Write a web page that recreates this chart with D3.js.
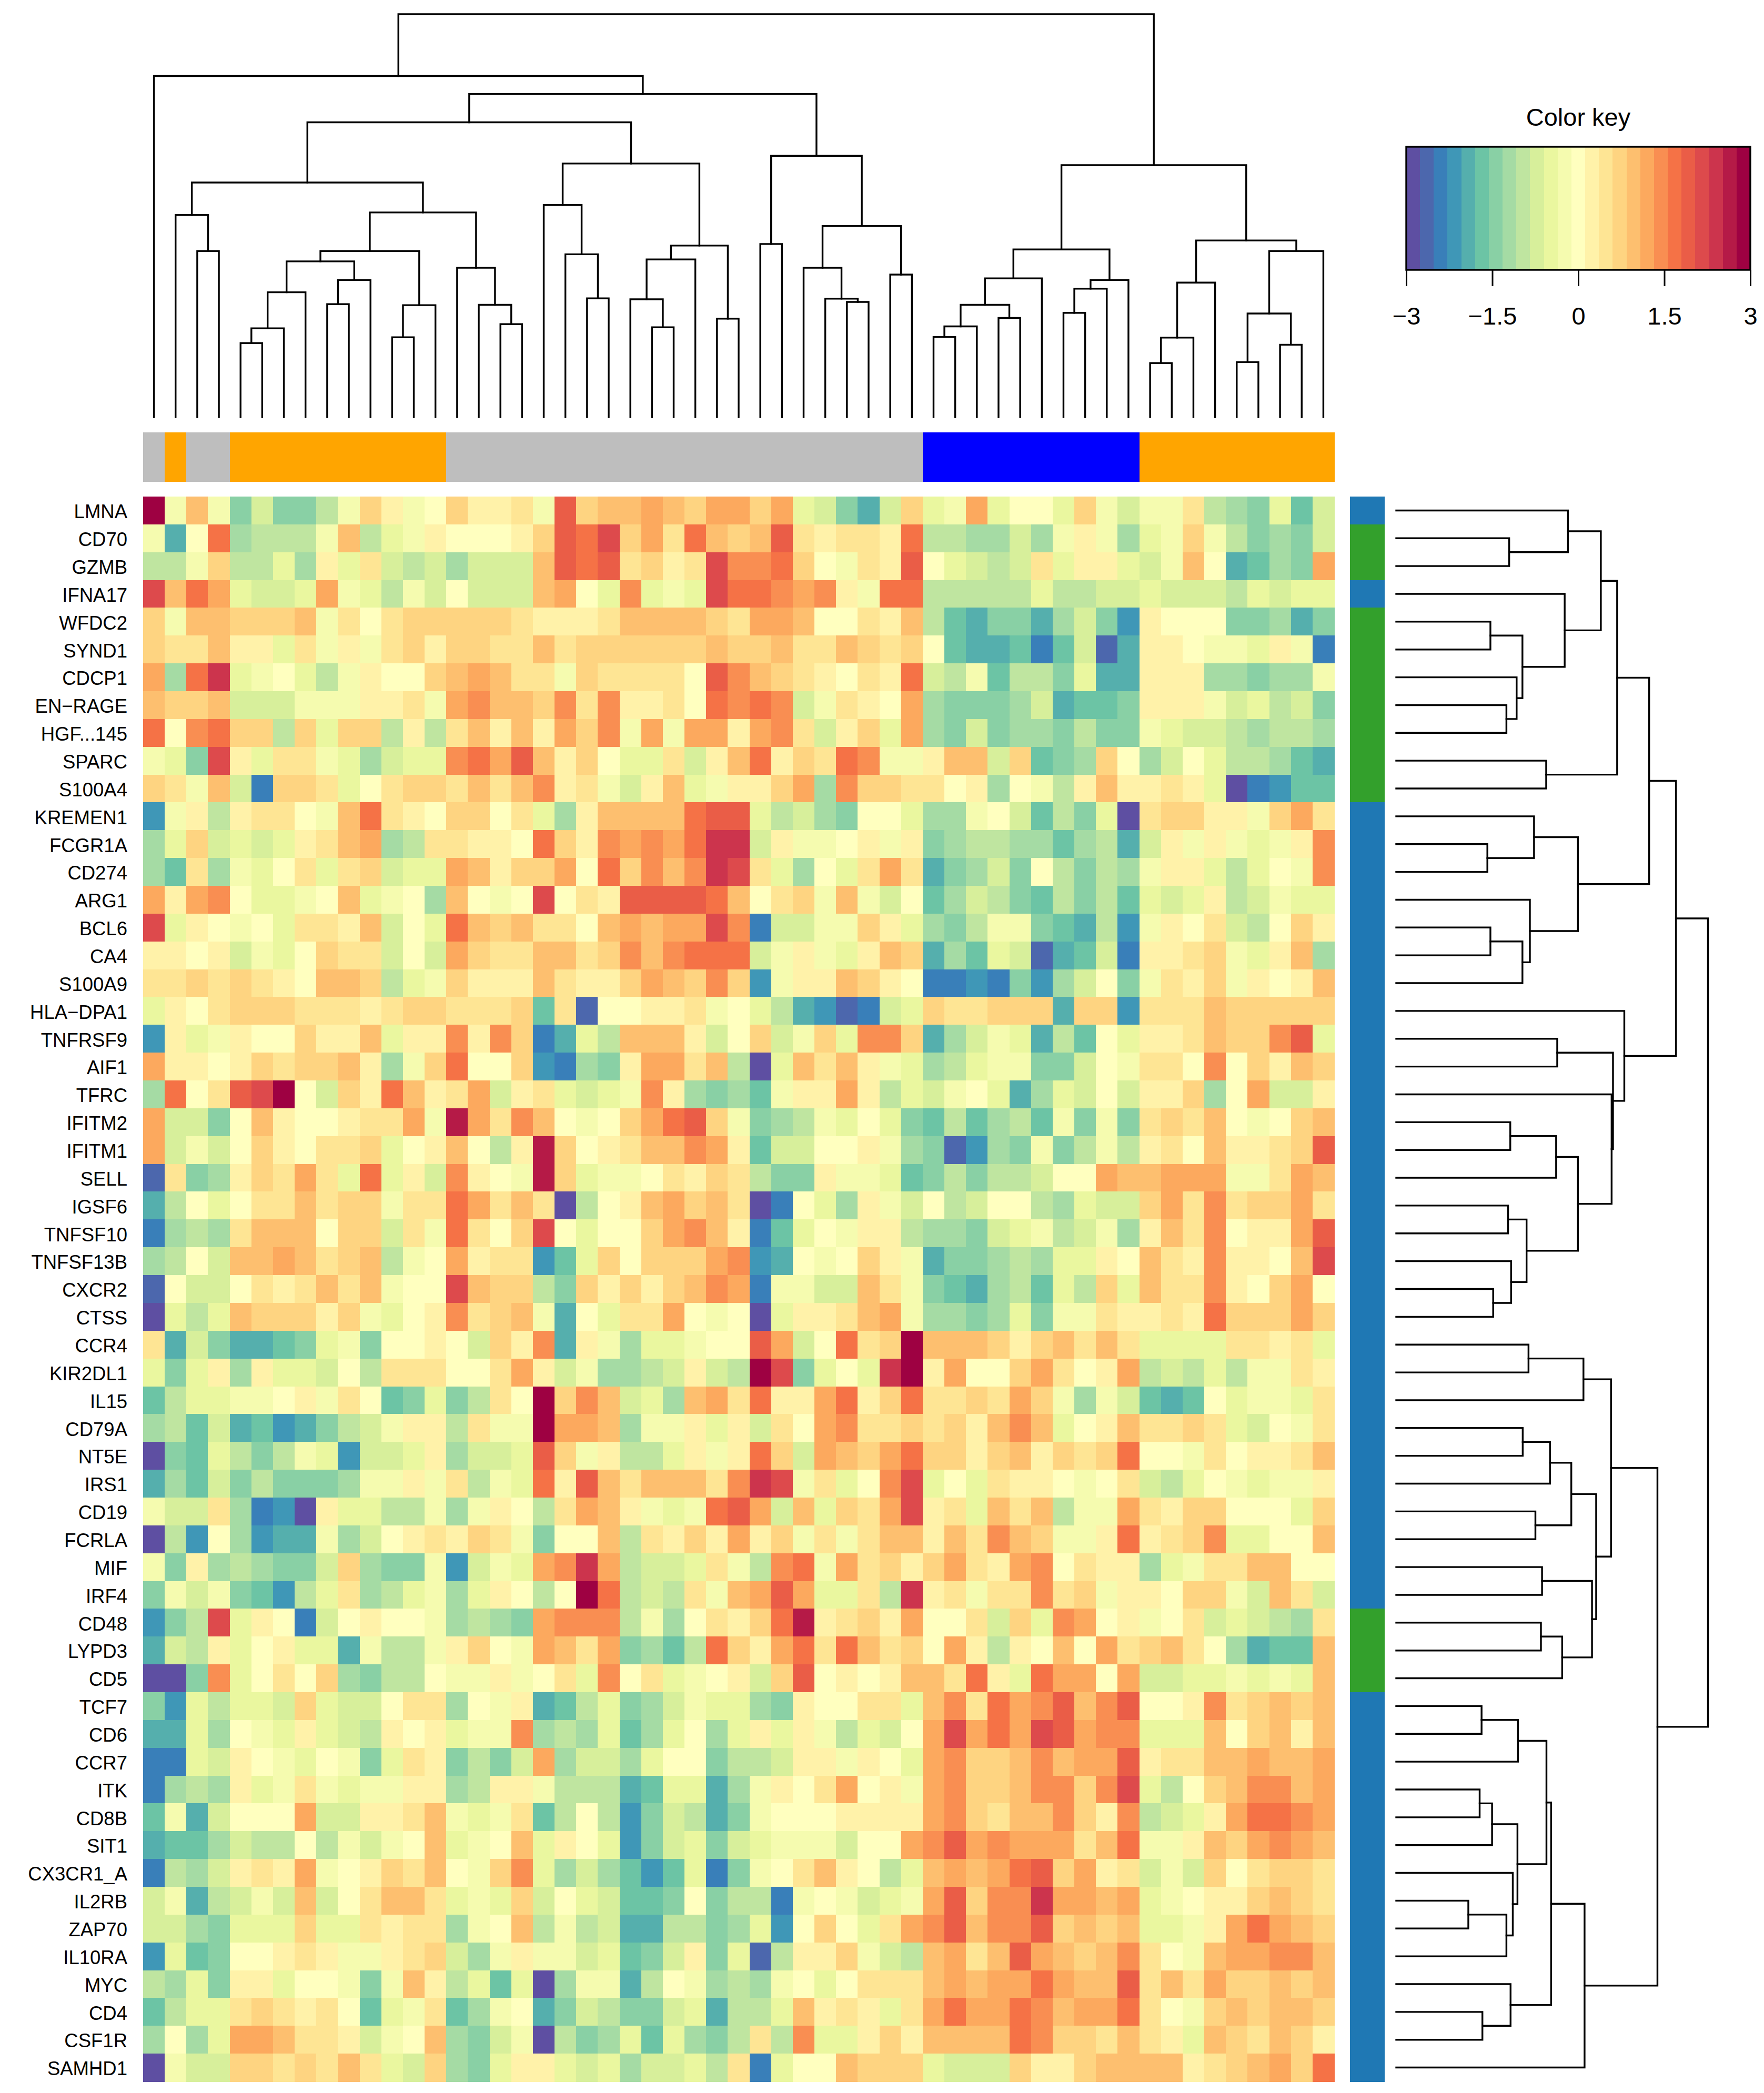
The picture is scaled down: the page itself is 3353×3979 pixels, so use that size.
<!DOCTYPE html>
<html lang="en">
<head>
    <meta charset="UTF-8">
    <title>Heatmap</title>
    <style>
        html, body { margin: 0; background: #fff; }
        svg { display: block; }
        text { font-family: "Liberation Sans", Arial, sans-serif; fill: #000; }
        .tree path { fill: none; stroke: #000; stroke-width: 3.4; stroke-linecap: square; }
        .cell { shape-rendering: crispEdges; }
    </style>
</head>
<body>

<svg class="chart" width="3353" height="3979"></svg>

<script src="https://cdn.jsdelivr.net/npm/d3@7"></script>

<script>

    var rowLabels = ["LMNA","CD70","GZMB","IFNA17","WFDC2","SYND1","CDCP1","EN\u2212RAGE","HGF...145","SPARC","S100A4",
        "KREMEN1","FCGR1A","CD274","ARG1","BCL6","CA4","S100A9","HLA\u2212DPA1","TNFRSF9","AIF1","TFRC","IFITM2","IFITM1",
        "SELL","IGSF6","TNFSF10","TNFSF13B","CXCR2","CTSS","CCR4","KIR2DL1","IL15","CD79A","NT5E","IRS1","CD19","FCRLA",
        "MIF","IRF4","CD48","LYPD3","CD5","TCF7","CD6","CCR7","ITK","CD8B","SIT1","CX3CR1_A","IL2RB","ZAP70","IL10RA",
        "MYC","CD4","CSF1R","SAMHD1"];

    // side colour bars, one entry per column / per row
    var colGroups = ["g","o","g","g","o","o","o","o","o","o","o","o","o","o",
        "g","g","g","g","g","g","g","g","g","g","g","g","g","g","g","g","g","g","g","g","g","g",
        "b","b","b","b","b","b","b","b","b","b",
        "o","o","o","o","o","o","o","o","o"];
    var rowGroups = ["b","g","g","b","g","g","g","g","g","g","g",
        "b","b","b","b","b","b","b","b","b","b","b","b","b","b","b","b","b","b","b","b","b","b","b","b","b","b","b","b","b",
        "g","g","g",
        "b","b","b","b","b","b","b","b","b","b","b","b","b","b"];
    var groupColors = {g: "#BEBEBE", o: "#FFA500", b: "#0000FF"};
    var rowGroupColors = {b: "#1F78B4", g: "#33A02C"};

    // z-scores x10
    var values = [
        [29,-2,10,-2,-14,-7,-14,-14,-10,-2,7,2,-2,0,7,2,2,5,-2,19,7,10,10,12,10,7,12,12,7,12,-5,-7,-14,-19,-7,7,-5,-2,12,-5,0,0,-5,7,-2,-7,-2,-2,5,-10,-12,-14,-5,-17,-7],
        [-2,-19,0,17,-12,-10,-10,-10,-2,10,-10,-5,-2,2,0,0,0,2,7,19,17,22,7,12,5,17,10,7,10,19,5,2,5,5,2,17,-10,-10,-12,-12,-7,-12,-2,2,-2,-12,-5,-2,7,-2,-10,-14,-12,-14,-7],
        [-10,-10,-2,7,-10,-10,-5,-12,2,-5,5,-7,-10,-7,-12,-7,-7,-7,10,19,17,19,5,7,2,5,22,14,14,17,7,0,-2,5,2,19,0,-5,-7,-10,-7,5,-5,2,2,-5,-7,-2,10,0,-19,-17,-12,-14,12],
        [22,10,17,12,-5,-7,-7,-5,12,-2,-5,-10,-2,-7,0,-7,-7,-7,10,12,0,-5,14,-5,-2,-5,22,17,17,14,12,14,2,-2,17,17,-10,-10,-10,-10,-10,-5,-10,-10,-7,-7,-5,-7,-7,-7,-10,-5,-7,-5,-5],
        [7,-2,10,10,7,7,7,10,-2,5,0,5,7,7,7,7,7,5,2,2,2,5,10,10,10,10,7,5,12,12,10,0,0,5,2,10,-10,-17,-19,-14,-14,-19,-12,-7,-14,-22,2,0,0,0,-14,-14,-12,-19,-14],
        [7,5,5,10,2,2,-5,5,-2,2,-2,5,7,2,7,7,5,5,10,5,7,7,7,7,7,7,10,7,7,10,5,5,10,7,5,7,0,-17,-19,-19,-17,-24,-17,-7,-26,-19,2,2,0,-2,-2,-5,2,-2,-24],
        [12,-12,17,24,-5,-2,0,-5,-10,-2,2,0,0,7,10,12,10,5,5,-2,7,5,5,5,5,0,19,14,10,7,5,2,0,5,2,17,-7,-10,-2,-17,-10,-10,-14,-5,-19,-19,2,2,2,-12,-12,-14,-12,-12,-2],
        [10,7,7,10,-7,-7,-7,-2,-2,-2,2,2,5,-2,12,14,10,10,7,14,5,14,2,2,5,0,17,14,17,14,-7,-2,5,2,0,12,-12,-14,-14,-14,-12,-7,-19,-17,-17,-14,2,2,2,-2,-7,-5,-10,-7,-14],
        [17,0,14,17,7,7,-10,7,-5,7,7,-10,2,-10,5,10,2,10,2,12,7,14,-2,12,-2,12,12,2,12,14,5,-7,2,7,-5,12,-12,-14,-7,-14,-12,-12,-14,-10,-14,-14,-2,-5,-7,-7,-10,-12,-10,-10,-12],
        [-2,-5,-14,22,2,-5,5,5,-2,-5,-12,-7,-5,-5,14,17,12,19,10,2,7,0,-5,-5,5,-7,2,10,17,2,7,5,17,14,-2,-2,2,10,10,-7,7,-17,-14,-12,7,0,-12,-7,0,-5,-10,-10,-12,-17,-19],
        [7,5,-2,10,-7,-24,7,7,5,-5,0,5,7,7,5,10,5,10,14,2,5,-2,-7,2,10,-5,-2,2,2,7,12,-12,14,7,7,5,5,0,2,-12,0,-2,-10,2,10,2,2,5,2,-5,-29,-24,-22,-17,-17],
        [-22,-2,2,-10,2,5,5,0,-2,10,17,5,2,0,7,7,0,5,-5,-12,2,10,10,10,10,17,19,19,-5,-10,-7,-12,-14,0,0,-5,-12,-12,-2,0,-7,-17,-10,-14,-5,-29,5,7,7,2,2,-2,7,12,5],
        [-12,-5,7,-7,-5,-7,-5,2,5,10,12,-12,-10,5,5,2,2,0,17,7,2,14,12,14,12,17,24,24,-7,2,-2,-2,0,2,-2,2,-14,-12,-10,-10,-12,-12,-17,-12,-10,-19,-7,2,-2,2,-2,-5,-2,2,14],
        [-12,-17,5,-12,-2,-5,0,5,-5,5,7,-7,-5,-5,12,10,2,7,7,12,0,17,7,14,10,14,24,22,5,-5,-12,0,-5,5,12,5,-19,-14,-12,-7,-14,0,-10,-14,-10,-12,-2,2,2,-5,-10,-5,0,-2,14],
        [12,2,12,14,0,-5,-5,-2,0,10,-5,-2,0,-12,10,0,-2,0,22,0,5,2,19,19,19,19,17,10,0,5,7,-2,10,-2,-7,0,-17,-12,-7,-10,-14,-17,-10,-14,-10,-17,-5,-7,-5,2,-10,-7,-2,-5,-5],
        [22,-5,2,0,-2,0,-5,5,5,2,10,-7,0,-5,17,10,7,10,5,5,0,10,12,10,12,12,22,14,-24,-7,-7,-2,-2,7,2,-5,-12,-14,-10,-2,-2,-14,-17,-19,-10,-22,-2,2,0,5,-7,-10,0,7,2],
        [2,2,0,2,-7,-2,-5,0,7,5,5,-7,0,-7,12,7,5,5,10,10,5,7,14,10,14,17,17,17,-7,-2,2,-2,-5,2,10,7,-19,-12,-17,-5,-7,-26,-19,-17,-7,-24,2,2,5,7,-2,-5,2,10,-12],
        [5,5,7,5,7,5,2,0,10,10,7,-10,-5,-2,7,2,2,2,10,5,2,2,7,12,10,7,14,7,-22,-2,2,2,10,7,2,0,-24,-24,-22,-24,-14,-22,-12,-7,0,-14,-2,5,2,7,-2,2,0,2,10],
        [-5,2,0,5,7,7,7,5,5,5,2,5,7,7,5,5,5,7,-17,5,-26,0,0,2,2,5,-2,0,-5,-10,-19,-22,-26,-24,-7,-5,7,5,5,7,7,7,-19,7,7,-22,5,5,5,10,7,7,7,7,7],
        [-22,2,-5,-2,2,0,0,7,2,2,10,-5,2,2,14,2,14,7,-24,-19,-5,-10,10,10,10,2,-7,0,7,-7,-2,7,-5,14,14,7,-19,-12,-7,-2,-5,-19,-10,-17,0,-5,2,2,5,10,7,7,14,19,-5],
        [12,2,2,0,2,7,5,7,7,10,2,-12,-2,7,17,0,0,7,-22,-24,-12,-14,2,12,12,5,10,-10,-29,-5,10,5,10,2,-2,-5,-12,-10,-5,-2,-2,-14,-14,-7,0,-2,5,5,0,14,0,7,2,10,7],
        [-12,17,0,5,19,22,29,0,-7,7,2,17,10,2,5,12,-7,2,5,-5,-7,-5,-2,14,2,-12,-14,-12,-17,-2,2,2,12,2,-10,-5,-7,-2,0,-5,-19,-12,-5,-7,0,-7,2,2,7,-12,0,12,-7,-7,2],
        [12,-7,-7,-14,0,10,2,0,0,2,5,5,12,-2,26,12,5,14,10,0,-2,0,7,12,17,19,7,-2,-14,-12,-10,-2,-5,0,-5,-14,-17,-10,-17,-12,-10,-17,-2,-14,-2,-14,5,7,5,10,0,-2,0,7,10],
        [12,-7,-2,-7,0,7,2,0,5,5,7,-5,0,2,10,0,-10,2,26,7,0,2,5,10,10,14,12,2,-17,-7,-7,0,0,2,-2,-12,-14,-26,-22,-12,-14,-2,-14,-10,-2,-10,2,5,0,10,2,2,5,7,19],
        [-26,5,-14,-12,2,7,5,12,5,-5,17,-5,2,-7,14,2,0,-2,26,7,-5,-2,-2,0,5,2,7,5,-10,-14,-14,2,-2,-2,-5,-17,-14,-10,-14,-10,-10,-7,0,0,12,10,10,12,12,12,-2,-2,5,12,10],
        [-19,-10,0,-5,0,5,5,10,5,7,7,-2,5,5,17,12,5,10,5,-29,-10,0,2,10,12,7,10,5,-29,-24,0,-5,-12,2,-2,-7,0,-10,-7,0,0,-10,-12,-5,-7,-7,7,12,5,14,5,7,7,12,5],
        [-24,-12,-10,-12,5,10,10,10,0,7,7,-7,5,-2,17,5,0,7,22,0,-5,0,0,7,12,14,10,2,-24,-17,-5,0,-2,2,2,-10,-12,-12,-14,-7,-5,-2,-10,-7,-2,-12,2,10,5,14,0,2,2,12,19],
        [-12,-10,0,-7,10,10,12,10,5,7,10,-10,-2,0,12,2,5,5,-22,-17,-5,7,0,7,7,7,12,14,-22,-19,0,-2,0,7,2,-2,-19,-14,-14,-12,-10,-12,-5,-5,2,0,10,5,2,14,2,2,0,10,22],
        [-26,0,-7,-7,0,5,2,5,10,5,10,-2,0,0,22,10,7,7,-10,-14,7,2,7,2,7,10,14,12,-24,-2,-2,-7,-7,10,5,-2,-14,-17,-19,-12,-10,-17,-5,-10,7,-5,10,5,5,14,2,0,7,12,0],
        [-29,-5,-10,-5,10,7,7,7,2,7,-2,-5,0,2,14,5,7,10,-2,-19,0,-5,5,5,12,0,-2,0,-29,-5,2,2,5,10,12,-2,-12,-12,-14,-12,-5,-14,-2,-2,5,2,2,5,2,17,7,7,7,12,7],
        [5,-19,-7,-14,-19,-19,-17,-14,-5,-2,-14,0,0,2,0,-7,7,2,14,-19,2,-2,-12,-5,-5,-2,0,0,19,12,-7,0,17,5,7,29,10,10,10,7,2,7,10,5,10,5,-5,-5,-5,-5,5,5,2,5,-5],
        [-5,-14,-5,2,-12,2,-5,-5,-7,0,-10,5,5,5,0,0,5,12,2,-7,-2,-12,-12,-10,-7,2,-7,-10,29,22,-14,-5,0,-5,24,29,2,12,0,0,7,12,5,0,2,12,-10,-7,-10,-5,-10,-2,-2,5,2],
        [-17,-10,-5,-5,-2,-2,0,2,-2,5,0,-17,-14,-5,-14,-10,5,0,29,7,14,10,-7,-5,-12,10,12,5,17,2,2,12,17,2,7,17,5,5,7,5,12,7,-2,-12,-2,-7,-17,-19,-17,0,-5,-2,-2,-5,5],
        [-12,-10,-17,-7,-19,-17,-22,-19,-14,-10,-7,-2,2,2,-10,5,-2,-2,29,12,12,10,-12,-2,-2,2,-5,2,-7,5,0,12,14,5,5,7,5,7,2,10,14,10,-5,0,2,10,5,5,7,5,-5,-7,0,-2,5],
        [-29,-14,-17,-5,-10,-14,-10,-2,-5,-22,-7,-7,-5,2,-12,-7,-7,-5,19,7,-2,2,-10,-10,-5,2,-2,2,17,7,-7,12,10,7,12,17,7,7,2,7,10,2,7,5,7,17,0,0,-2,5,0,2,2,5,10],
        [-19,-12,-17,-7,-14,-10,-14,-14,-14,-12,-2,-2,2,-2,5,-10,-2,-5,17,2,19,10,5,10,10,10,5,14,24,22,-2,5,-5,0,14,22,-5,0,-5,5,2,2,0,-2,0,5,-7,-10,-5,0,-2,-5,-2,-2,2],
        [-2,-7,-7,5,-12,-24,-22,-29,2,-5,-5,-10,-10,-2,-12,-2,2,0,-10,5,12,10,2,-2,-5,-2,17,19,12,-7,10,-5,7,5,12,22,2,5,-5,10,5,10,-10,-2,-2,12,5,2,7,7,0,0,0,-5,7],
        [-29,-10,-22,0,-12,-22,-19,-19,-2,-12,-7,0,2,5,2,7,5,-2,-14,0,0,10,-10,5,2,7,2,12,2,7,-2,5,-2,5,10,10,2,10,5,14,10,7,-2,-2,2,17,2,5,7,14,-5,-5,0,0,10],
        [-2,-14,2,-12,-10,-12,-14,-14,-7,7,-12,-14,-14,-2,-22,-7,-2,-5,12,14,24,12,-10,-7,-7,-5,5,-2,-10,14,17,-2,12,5,7,2,7,12,5,2,12,14,0,5,2,2,-12,-5,-2,5,5,10,10,0,0],
        [-14,-2,-7,-2,-14,-17,-22,-10,-5,5,-12,-10,-5,-2,-12,-5,2,0,-10,0,29,17,-10,-7,-10,5,-2,10,12,19,12,-5,-5,5,-10,24,2,5,-2,5,5,14,5,7,-2,2,2,0,7,7,-2,-7,10,5,-7],
        [-22,-14,-10,22,-5,2,0,-24,-7,0,2,0,0,-2,-12,-10,-12,-14,12,14,14,14,-10,-2,-12,0,5,2,7,17,26,2,5,7,2,12,0,0,5,-7,7,-5,14,12,0,2,-2,0,5,-7,-5,-7,-10,-12,5],
        [-19,-7,-10,2,-5,0,2,-5,-5,-19,-2,-10,-10,-2,2,7,0,-2,12,10,5,12,-14,-12,-17,-10,17,7,2,12,17,5,17,10,5,7,0,12,2,-10,2,0,10,0,12,5,7,10,5,0,-12,-19,-17,-17,10],
        [-29,-29,-14,14,-5,0,5,0,7,-12,-14,-10,-10,0,-2,-2,2,-2,0,5,-5,14,0,5,-5,-2,0,2,-7,7,19,0,2,0,2,10,10,5,17,2,-5,17,12,12,0,12,-7,-7,-5,-5,-2,-5,-2,-5,10],
        [-14,-22,-5,-10,-5,-5,-7,7,-5,-7,-7,0,5,5,-12,0,-2,2,-19,-17,-10,-5,-14,-12,-7,-2,-5,-5,-12,-14,2,0,0,5,5,-5,10,14,5,17,12,14,19,10,14,19,0,0,2,14,5,7,10,7,10],
        [-19,-19,-5,-12,0,-2,-5,2,-5,-7,-10,2,0,2,-5,-2,-2,14,-12,-10,-12,-5,-17,-12,-5,0,-12,-5,2,-5,2,-2,-10,-5,-7,0,12,22,12,17,12,22,19,12,14,14,-5,-5,-5,10,0,7,10,2,10],
        [-24,-24,-5,-7,2,0,-2,-5,0,-2,-14,-5,5,2,-14,-10,-14,-7,12,-12,-7,-7,-12,-5,0,0,-14,-10,-10,-7,2,2,-2,2,0,-5,12,14,7,7,10,14,10,12,12,19,2,5,5,10,10,12,10,10,12],
        [-24,-12,-10,-12,2,-5,-2,5,-2,-5,-2,-2,2,2,-12,-10,2,2,-2,-10,-10,-10,-19,-17,-5,-5,-19,-12,-2,2,0,5,12,0,2,-2,12,14,7,7,10,14,14,7,14,22,-5,-10,0,7,10,14,14,10,12],
        [-17,-2,-19,-7,0,0,0,12,-7,-7,2,2,5,10,-2,-5,-2,5,-17,-10,0,-10,-22,-14,-7,-10,-19,-14,-2,0,0,0,2,2,2,2,12,14,7,5,10,10,14,7,2,14,-10,-7,-5,2,12,17,17,14,12],
        [-19,-17,-17,-12,-7,-10,-10,0,-10,-2,-7,-2,0,10,-5,-2,0,10,-5,2,0,-5,-22,-14,-7,-5,-14,-7,-5,-2,-2,-2,-7,0,0,12,14,19,12,14,12,12,12,5,10,17,-2,-2,2,10,7,12,14,12,10],
        [-24,-10,-12,-7,2,5,2,12,-2,0,2,7,5,10,0,-2,7,14,-5,-12,-7,-12,-17,-22,-17,-5,-24,-14,-2,0,5,10,2,0,-10,-5,10,12,10,12,17,19,7,12,2,5,-7,-2,-7,7,0,5,7,7,5],
        [-7,-2,-19,-10,-7,-2,-7,10,-7,0,5,10,10,5,-5,-2,-5,7,-7,0,-5,-7,-17,-17,-14,0,-14,-10,-10,-24,-2,0,-2,-7,-5,-2,12,19,7,14,14,24,12,12,10,12,-5,-2,0,2,2,7,10,7,5],
        [-7,-7,-12,-14,-5,-5,-5,7,-5,-5,5,2,5,5,-12,-2,0,10,-10,-2,-10,-7,-19,-19,-10,-10,-14,-12,-5,-22,0,7,0,-5,5,12,14,19,10,14,14,19,7,10,7,10,-5,-5,-2,2,12,17,12,10,7],
        [-22,-5,-17,-14,0,0,2,5,2,-2,-2,2,5,7,-7,-12,-2,2,-2,-2,-7,-5,-17,-14,-7,2,-14,-5,-26,-10,2,2,7,-2,-7,-10,10,12,5,10,19,12,10,7,10,14,5,0,-2,10,12,12,14,14,10],
        [-10,-12,-5,-14,2,2,-5,0,0,-2,-14,-2,10,2,-10,-5,-17,-5,-29,-12,-2,-2,-19,-10,0,-2,-12,-10,-12,-2,0,-5,0,5,5,5,10,12,10,12,12,17,12,10,10,19,5,10,5,12,7,7,10,7,10],
        [-17,-10,-5,-5,5,7,5,2,5,0,-17,-5,-2,5,-17,-12,-2,0,-19,-14,-7,-10,-14,-14,-7,-5,-19,-10,-10,-5,10,2,5,2,-5,5,12,17,12,12,17,14,10,12,12,17,5,0,-2,7,10,7,10,10,7],
        [-12,0,-12,-5,12,12,10,5,5,2,-7,-2,0,10,-12,-14,-7,-2,-29,-10,-14,-12,-5,-17,-5,-12,-14,-10,5,-10,14,-5,-5,2,7,2,10,10,10,10,17,14,7,7,5,10,5,2,-5,10,7,5,10,7,2],
        [-29,-2,-7,-7,7,7,5,7,5,10,5,-5,-7,7,-12,-14,-5,2,2,-5,-7,-5,-12,-7,-7,-5,-10,5,-24,-5,0,0,10,7,7,7,-5,-7,-7,-7,7,2,2,7,10,10,10,10,2,5,7,10,12,7,17]
    ];

    // dendrograms: [merge height, left, right], 0 is a leaf
    var colTree = [12.52,
        [10.60, 0,
            [10.04,
                [9.16,
                    [7.29,
                        [6.28, 0, [5.16, 0, 0]],
                        [6.36,
                            [5.16,
                                [4.84,
                                    [3.88, [2.76, [2.30, 0, 0], 0], 0],
                                    [4.26, [3.51, 0, 0], 0]],
                                [3.48, [2.48, 0, 0], 0]],
                            [4.64, 0, [3.49, 0, [2.89, 0, 0]]]]],
                    [7.88,
                        [6.59, 0, [5.06, 0, [3.69, 0, 0]]],
                        [5.33,
                            [4.90, [3.66, 0, [2.79, 0, 0]], 0],
                            [3.06, 0, 0]]]],
                [8.12,
                    [5.38, 0, 0],
                    [5.94,
                        [4.64, 0, [3.68, 0, [3.58, 0, 0]]],
                        [4.43, 0, 0]]]]],
        [7.83,
            [5.21,
                [4.31, [3.49, [2.82, [2.49, 0, 0], 0], [3.08, 0, 0]], 0],
                [4.26, [3.99, [3.24, 0, 0], 0], 0]],
            [5.49,
                [4.18, [2.47, [1.68, 0, 0], 0], 0],
                [5.16, [3.22, [1.71, 0, 0], [2.25, 0, 0]], 0]]]];

    var rowTree = [11.29,
        [10.13,
            [9.16,
                [8.00,
                    [7.41,
                        [6.22, 0, [4.09, 0, 0]],
                        [6.10, 0, [4.57, [3.41, 0, 0], [4.36, 0, [3.99, 0, 0]]]]],
                    [5.43, 0, 0]],
                [6.58,
                    [4.99, 0, [3.30, 0, 0]],
                    [4.84, 0, [4.57, [3.41, 0, 0], 0]]]],
            [8.26, 0,
                [7.85,
                    [5.83, 0, 0],
                    [7.80, 0,
                        [6.58,
                            [5.79, [4.13, 0, 0], 0],
                            [4.72, [4.05, 0, 0], [4.16, 0, [3.51, 0, 0]]]]]]]],
        [9.46,
            [7.78,
                [6.78, [4.79, 0, 0], 0],
                [7.24,
                    [6.34, [5.57, [4.58, 0, 0], 0], [5.04, 0, 0]],
                    [7.09, [5.28, 0, 0], [6.01, [5.24, 0, 0], 0]]]],
            [6.82,
                [5.61,
                    [5.44,
                        [4.41, [3.09, 0, 0], 0],
                        [4.39, [3.47, [3.02, 0, 0], 0], [4.22, 0, [3.99, [2.61, 0, 0], 0]]]],
                    [4.14, 0, [3.12, 0, 0]]],
                0]]];

    var spectral = ["#5E4FA2","#3288BD","#66C2A5","#ABDDA4","#E6F598","#FFFFBF","#FEE08B","#FDAE61","#F46D43","#D53E4F","#9E0142"];
    var keyTicks = [-3, -1.5, 0, 1.5, 3];

    var svg = d3.select(".chart");

    var x = d3.scaleBand().domain(d3.range(colGroups.length)).range([272, 2536]);
    var y = d3.scaleBand().domain(d3.range(rowLabels.length)).range([944, 3957]);
    var color = d3.scaleQuantize()
            .domain([-3, 3])
            .range(d3.quantize(d3.piecewise(d3.interpolateRgb, spectral), 25));

    // heatmap
    var row = svg.append("g").selectAll("g")
            .data(values)
            .enter()
            .append("g")
            .attr("transform", function (d, i) { return "translate(0," + y(i) + ")"; });

    row.selectAll("rect")
            .data(function (d) { return d; })
            .enter()
            .append("rect")
            .attr("class", "cell")
            .attr("x", function (d, i) { return x(i); })
            .attr("width", x.bandwidth() + 0.5)
            .attr("height", y.bandwidth() + 0.5)
            .attr("fill", function (d) { return color(d / 10); });

    // row labels
    svg.append("g").selectAll("text")
            .data(rowLabels)
            .enter()
            .append("text")
            .attr("x", 242)
            .attr("y", function (d, i) { return y(i) + y.bandwidth() / 2 + 2; })
            .attr("dy", "0.35em")
            .attr("text-anchor", "end")
            .attr("font-size", 36.5)
            .text(function (d) { return d; });

    // colour bars
    svg.append("g").selectAll("rect")
            .data(colGroups)
            .enter()
            .append("rect")
            .attr("class", "cell")
            .attr("x", function (d, i) { return x(i); })
            .attr("y", 822)
            .attr("width", x.bandwidth() + 0.5)
            .attr("height", 94)
            .attr("fill", function (d) { return groupColors[d]; });

    svg.append("g").selectAll("rect")
            .data(rowGroups)
            .enter()
            .append("rect")
            .attr("class", "cell")
            .attr("x", 2566)
            .attr("y", function (d, i) { return y(i); })
            .attr("width", 66)
            .attr("height", y.bandwidth() + 0.5)
            .attr("fill", function (d) { return rowGroupColors[d]; });

    // dendrograms
    function layoutTree(tree, band) {
        var root = d3.hierarchy(tree, function (d) { return Array.isArray(d) ? d.slice(1) : null; });
        root.leaves().forEach(function (leaf, i) {
            leaf.pos = band(i) + band.bandwidth() / 2;
        });
        root.eachAfter(function (n) {
            n.h = Array.isArray(n.data) ? n.data[0] : 0;
            if (n.children) n.pos = d3.mean(n.children, function (c) { return c.pos; });
        });
        return root.descendants().filter(function (n) { return n.children; });
    }

    var colHeight = d3.scaleLinear().domain([0, 12.52]).range([793, 27]);
    var rowHeight = d3.scaleLinear().domain([0, 11.29]).range([2654, 3246.5]);

    svg.append("g").attr("class", "tree").selectAll("path")
            .data(layoutTree(colTree, x))
            .enter()
            .append("path")
            .attr("d", function (n) {
                var a = n.children[0], b = n.children[1];
                return "M" + a.pos + "," + colHeight(a.h) + "V" + colHeight(n.h) + "H" + b.pos + "V" + colHeight(b.h);
            });

    svg.append("g").attr("class", "tree").selectAll("path")
            .data(layoutTree(rowTree, y))
            .enter()
            .append("path")
            .attr("d", function (n) {
                var a = n.children[0], b = n.children[1];
                return "M" + rowHeight(a.h) + "," + a.pos + "H" + rowHeight(n.h) + "V" + b.pos + "H" + rowHeight(b.h);
            });

    // colour key
    var keyX = d3.scaleLinear().domain([-3, 3]).range([2673, 3327]);
    var key = svg.append("g");

    key.selectAll("rect")
            .data(color.range())
            .enter()
            .append("rect")
            .attr("class", "cell")
            .attr("x", function (d) { return keyX(color.invertExtent(d)[0]); })
            .attr("y", 279)
            .attr("width", function (d) {
                var e = color.invertExtent(d);
                return keyX(e[1]) - keyX(e[0]) + 0.5;
            })
            .attr("height", 234)
            .attr("fill", function (d) { return d; });

    key.append("rect")
            .attr("x", keyX(-3))
            .attr("y", 279)
            .attr("width", keyX(3) - keyX(-3))
            .attr("height", 234)
            .attr("fill", "none")
            .attr("stroke", "#000")
            .attr("stroke-width", 3.4);

    var keyAxis = key.append("g")
            .attr("transform", "translate(0,513)")
            .call(d3.axisBottom(keyX)
                .tickValues(keyTicks)
                .tickSize(31)
                .tickPadding(40)
                .tickFormat(function (d) { return String(d).replace("-", "\u2212"); }));

    keyAxis.select(".domain").remove();
    keyAxis.selectAll("line").attr("stroke", "#000").attr("stroke-width", 3);
    keyAxis.selectAll("text")
            .attr("font-family", "'Liberation Sans', Arial, sans-serif")
            .attr("font-size", 47);

    key.append("text")
            .attr("x", keyX(0))
            .attr("y", 239)
            .attr("text-anchor", "middle")
            .attr("font-size", 47)
            .text("Color key");

</script>


</body>
</html>
